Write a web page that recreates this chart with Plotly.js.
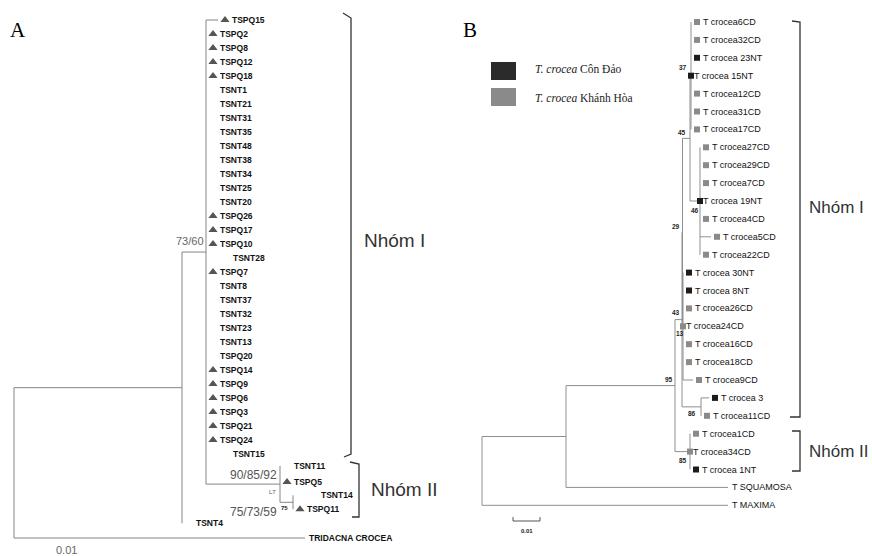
<!DOCTYPE html>
<html><head><meta charset="utf-8">
<script src="https://cdn.plot.ly/plotly-3.0.1.min.js"></script>
<style>html,body{margin:0;padding:0;background:#fff}</style>
</head><body><div id="chart" style="width:872px;height:556px"></div>
<script>
// ---------- Panel A data ----------
const tipsA = ['TSPQ15','TSPQ2','TSPQ8','TSPQ12','TSPQ18','TSNT1','TSNT21','TSNT31','TSNT35','TSNT48','TSNT38','TSNT34','TSNT25','TSNT20','TSPQ26','TSPQ17','TSPQ10','TSNT28','TSPQ7','TSNT8','TSNT37','TSNT32','TSNT23','TSNT13','TSPQ20','TSPQ14','TSPQ9','TSPQ6','TSPQ3','TSPQ21','TSPQ24','TSNT15','TSNT11','TSPQ5','TSNT14','TSPQ11','TSNT4','TRIDACNA CROCEA'];
const rowsA = [0,1,2,3,4,5,6,7,8,9,10,11,12,13,14,15,16,17,18,19,20,21,22,23,24,25,26,27,28,29,30,31,31.85,33,33.95,34.95,35.95,37];
const triA  = [1,1,1,1,1,0,0,0,0,0,0,0,0,0,1,1,1,0,1,0,0,0,0,0,0,1,1,1,1,1,1,0,0,1,0,1,0,0];
const branchA = [12,0,0,0,0,0,0,0,0,0,0,0,0,0,0,0,0,13,0,0,0,0,0,0,0,0,0,0,0,0,0,13,0,0,14,0,0,291];
const hiddenA = ['TSNT28','TSNT15','TSNT14'];
const nodeNamesA = ['root','ingroup','NI','GII','S'];
const nodeDepthA = [0,168,192,266,279];
const nodeKidsA = [['ingroup','TRIDACNA CROCEA'],['NI','TSNT4'],tipsA.slice(0,32).concat(['GII']),['TSNT11','TSPQ5','S'],['TSNT14','TSPQ11']];

// ---------- Panel B data ----------
const tipsB = ['T crocea6CD','T crocea32CD','T crocea 23NT','T crocea 15NT','T crocea12CD','T crocea31CD','T crocea17CD','T crocea27CD','T crocea29CD','T crocea7CD','T crocea 19NT','T crocea4CD','T crocea5CD','T crocea22CD','T crocea 30NT','T crocea 8NT','T crocea26CD','T crocea24CD','T crocea16CD','T crocea18CD','T crocea9CD','T crocea 3','T crocea11CD','T crocea1CD','T crocea34CD','T crocea 1NT','T SQUAMOSA','T MAXIMA'];
const rowsB = [0,1,2,3,4,5,6,7,8,9,10,11,12,13,14,15,16,17,18,19,20,21,22,23,24,25,26,27];
const groupB = ['K','K','C','C','K','K','K','K','K','K','C','K','K','K','C','C','K','K','K','K','K','C','K','K','K','C','',''];
const onNodeB = [0,0,0,1,0,0,0,0,0,0,1,0,0,0,0,0,0,1,0,0,0,0,0,0,1,0,0,0];
const branchB = [0,0,0,0,0,0,0,0,0,0,0,0,11,0,0,0,0,0,0,0,10,8,0,0,0,0,162,246];
const nodeNamesB = ['R','N1','N95','N43','N29','N45','N37','N46','N13','N86','N85'];
const nodeDepthB = [0,84,193,200,200.5,208,209,218,201,219,208];
const nodeKidsB = [['N1','T MAXIMA'],['N95','T SQUAMOSA'],['N43','N85'],['N29','N86'],['N45','N13'],['N37','N46'],
  tipsB.slice(0,7), tipsB.slice(7,14), tipsB.slice(14,21), tipsB.slice(21,23), tipsB.slice(23,26)];
const bootNodesB = ['N37','N45','N46','N29','N43','N13','N95','N86','N85'];
const bootValsB  = ['37','45','46','29','43','13','95','86','85'];
const bootShiftB = [[-8,-8],[-8,-6],[-5,9],[-7,-6],[-6,-7],[-3,7],[-6,-6],[-9,7],[-7,9]];
const legendLabels = ['<i>T. crocea</i> Côn Đảo','<i>T. crocea</i> Khánh Hòa'];
const groupNames = ['Nhóm I','Nhóm II'];

function build(names, depths, kids, tips, rows, bl, hidden) {
  const nd = {}; names.forEach((n,i)=>nd[n]={d:depths[i],kids:kids[i]});
  const ti = {}; tips.forEach((t,i)=>ti[t]=i);
  const pos = {}; const L = {x:[],y:[]};
  function walk(name, pd) {
    if (nd[name]) {
      const n = nd[name];
      const ys = n.kids.map(k=>walk(k,n.d));
      const y = (ys[0]+ys[ys.length-1])/2;
      L.x.push(n.d,n.d,null); L.y.push(ys[0],ys[ys.length-1],null);
      if (pd!==undefined){L.x.push(pd,n.d,null); L.y.push(y,y,null);}
      pos[name]={x:n.d,y:y};
      return y;
    }
    const i = ti[name]; const d = pd + bl[i]; const y = rows[i];
    pos[name]={x:d,y:y,line:bl[i]>0 && hidden.indexOf(name)<0};
    if (bl[i]>0 && hidden.indexOf(name)<0){L.x.push(pd,d,null); L.y.push(y,y,null);}
    return y;
  }
  walk(names[0]);
  return {pos:pos, L:L};
}
const A = build(nodeNamesA,nodeDepthA,nodeKidsA,tipsA,rowsA,branchA,hiddenA);
const B = build(nodeNamesB,nodeDepthB,nodeKidsB,tipsB,rowsB,branchB,[]);

const traces = [];
traces.push({x:A.L.x,y:A.L.y,mode:'lines',line:{color:'#858585',width:1},xaxis:'x',yaxis:'y',hoverinfo:'skip'});
const triX=[],triY=[];
tipsA.forEach((t,i)=>{ if(triA[i]){triX.push(A.pos[t].x+7); triY.push(A.pos[t].y);} });
traces.push({x:triX,y:triY,mode:'markers',marker:{symbol:'triangle-up',size:8,color:'#555'},xaxis:'x',yaxis:'y',hoverinfo:'skip'});

traces.push({x:B.L.x,y:B.L.y,mode:'lines',line:{color:'#8f8f8f',width:1},xaxis:'x2',yaxis:'y2',hoverinfo:'skip'});
['C','K'].forEach(g=>{
  const xs=[],ys=[];
  tipsB.forEach((t,i)=>{ if(groupB[i]===g){ xs.push(onNodeB[i]?B.pos[t].x:B.pos[t].x+6); ys.push(B.pos[t].y);} });
  traces.push({x:xs,y:ys,mode:'markers',marker:{symbol:'square',size:6,color:g==='C'?'#1c1c1c':'#8a8a8a'},xaxis:'x2',yaxis:'y2',hoverinfo:'skip'});
});

const ann = [];
const sans = 'Liberation Sans, Arial, sans-serif';
tipsA.forEach((t,i)=>{
  const p=A.pos[t]; const off = (branchA[i]>0 && !triA[i] && p.line)?4:14;
  ann.push({xref:'x',yref:'y',x:p.x+off-1,y:p.y,text:t,showarrow:false,xanchor:'left',borderpad:0,
    font:{family:sans,size:8.5,color:'#111',weight:'bold'}});
});
tipsB.forEach((t,i)=>{
  const p=B.pos[t]; const off = onNodeB[i]?3:(groupB[i]?12:4);
  ann.push({xref:'x2',yref:'y2',x:p.x+off-1,y:p.y,text:t,showarrow:false,xanchor:'left',borderpad:0,
    font:{family:sans,size:9,color:'#111'}});
});
bootNodesB.forEach((n,i)=>{
  ann.push({xref:'x2',yref:'y2',x:B.pos[n].x,y:B.pos[n].y,xshift:bootShiftB[i][0],yshift:-bootShiftB[i][1],text:bootValsB[i],
    showarrow:false,borderpad:0,font:{family:sans,size:6.5,color:'#222',weight:'bold'}});
});
// Panel A support values
const NI=A.pos['NI'], GII=A.pos['GII'], S=A.pos['S'];
ann.push({xref:'x',yref:'y',x:NI.x,y:NI.y,xshift:-1,yshift:11,xanchor:'right',text:'73/60',showarrow:false,borderpad:0,font:{family:sans,size:11,color:'#666'}});
ann.push({xref:'x',yref:'y',x:GII.x,y:GII.y,xshift:-2,yshift:9,xanchor:'right',text:'90/85/92',showarrow:false,borderpad:0,font:{family:sans,size:12,color:'#555'}});
ann.push({xref:'x',yref:'y',x:S.x,y:S.y,xshift:-15,yshift:-10,xanchor:'right',text:'75/73/59',showarrow:false,borderpad:0,font:{family:sans,size:12,color:'#555'}});
ann.push({xref:'x',yref:'y',x:S.x,y:S.y,xshift:-9,yshift:-6,text:'75',showarrow:false,borderpad:0,font:{family:sans,size:6,color:'#222',weight:'bold'}});
ann.push({xref:'x',yref:'y',x:GII.x,y:GII.y,xshift:-8,yshift:-8,text:'L7',showarrow:false,borderpad:0,font:{family:sans,size:6,color:'#555'}});

// decorations in pixel axes (x3/y3)
const P = (x,y,o)=>Object.assign({xref:'x3',yref:'y3',x:x,y:y,showarrow:false,borderpad:0},o);
ann.push(P(18,30,{text:'A',font:{family:'Liberation Serif, Times New Roman, serif',size:21,color:'#000'}}));
ann.push(P(470,30,{text:'B',font:{family:'Liberation Serif, Times New Roman, serif',size:21,color:'#000'}}));
ann.push(P(363,240,{xanchor:'left',text:groupNames[0],font:{family:sans,size:19,color:'#333'}}));
ann.push(P(370,489,{xanchor:'left',text:groupNames[1],font:{family:sans,size:19,color:'#333'}}));
ann.push(P(808,207,{xanchor:'left',text:groupNames[0],font:{family:sans,size:17,color:'#333'}}));
ann.push(P(808,451,{xanchor:'left',text:groupNames[1],font:{family:sans,size:17,color:'#333'}}));
ann.push(P(534,69,{xanchor:'left',text:legendLabels[0],font:{family:'Liberation Serif, Times New Roman, serif',size:11.5,color:'#222'}}));
ann.push(P(534,98,{xanchor:'left',text:legendLabels[1],font:{family:'Liberation Serif, Times New Roman, serif',size:11.5,color:'#222'}}));
ann.push(P(66,550,{text:'0.01',font:{family:sans,size:11,color:'#666'}}));
ann.push(P(527,531,{text:'0.01',font:{family:sans,size:6,color:'#222',weight:'bold'}}));

const shapes = [];
const line = (pts,c,w)=>shapes.push({type:'path',xref:'x3',yref:'y3',path:'M'+pts.map(p=>p.join(',')).join('L'),line:{color:c,width:w}});
line([[343,13],[351,18],[351,454],[344,457]],'#333',1.3);
line([[350,462],[359,464],[359,517],[352,517]],'#333',1.3);
line([[792,21],[800,22],[800,417],[790,417]],'#333',1.3);
line([[792,431],[800,431],[800,471],[792,471]],'#333',1.3);
line([[513,517],[513,521],[540,521],[540,517]],'#555',1);
shapes.push({type:'rect',xref:'x3',yref:'y3',x0:491,x1:516,y0:62,y1:80,fillcolor:'#2b2b2b',line:{width:0}});
shapes.push({type:'rect',xref:'x3',yref:'y3',x0:491,x1:516,y0:88,y1:106,fillcolor:'#8a8a8a',line:{width:0}});

const ax = (r,o)=>Object.assign({range:r,visible:false,fixedrange:true,showgrid:false,zeroline:false},o||{});
const layout = {
  width:872,height:556,margin:{l:0,r:0,t:0,b:0},showlegend:false,
  paper_bgcolor:'#fff',plot_bgcolor:'#fff',
  xaxis:ax([-14,858]), yaxis:ax([536/14,-20/14]),
  xaxis2:ax([-482,390],{overlaying:'x'}), yaxis2:ax([(556-22)/17.9,-22/17.9],{overlaying:'y'}),
  xaxis3:ax([0,872],{overlaying:'x'}), yaxis3:ax([556,0],{overlaying:'y'}),
  annotations:ann, shapes:shapes
};
traces.push({x:[0],y:[0],mode:'markers',marker:{opacity:0},xaxis:'x3',yaxis:'y3',hoverinfo:'skip'});
Plotly.newPlot('chart',traces,layout,{staticPlot:true,displayModeBar:false});
</script></body></html>
